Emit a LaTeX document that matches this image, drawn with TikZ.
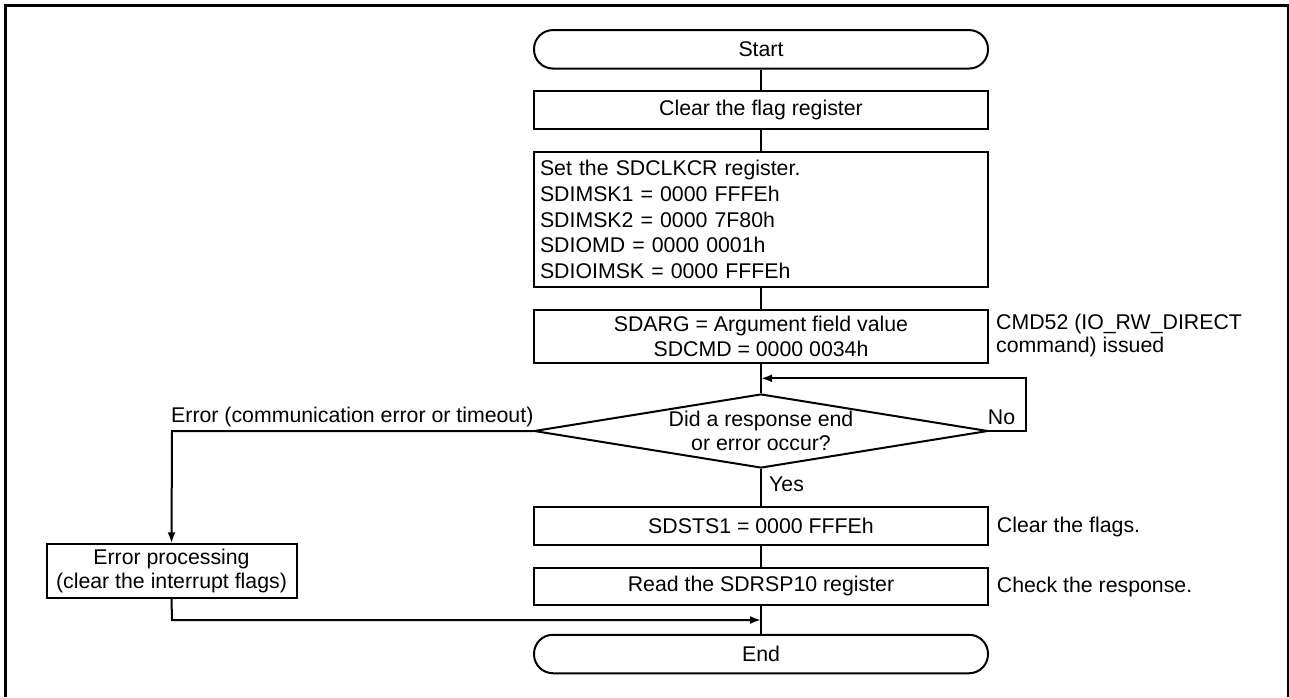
\documentclass[tikz,border=0pt]{standalone}
\usepackage{fontspec}
\setmainfont{Liberation Sans}
\usetikzlibrary{shapes.geometric,arrows.meta}
\begin{document}
\begin{tikzpicture}[x=1pt,y=-1pt,
  every node/.style={font=\fontsize{21.3}{25}\selectfont},
  ln/.style={line width=2pt},
  box/.style={draw,line width=2pt,rectangle,minimum width=454pt,inner sep=0pt,align=center},
  term/.style={box,rounded corners=19pt,minimum height=38.5pt},
  arr/.style={ln,-{Latex[length=11pt,width=8pt]}},
  lbl/.style={inner sep=0pt}]
\useasboundingbox (0,0) rectangle (1289,697);
% frame
\draw[line width=3pt] (5.5,697) -- (5.5,5.5) -- (1289,5.5);
\draw[line width=2pt] (1288,5.5) -- (1288,697);
% nodes
\node[term] (start) at (761,49.3) {Start};
\node[box,minimum height=38pt] (clear) at (761,110) {Clear the flag register};
\node[box,minimum height=135.6pt,text width=442pt,align=left,font=\fontsize{21.3}{25.7}\selectfont] (set) at (761,219.5)
  {Set the SDCLKCR register.\\SDIMSK1 = 0000 FFFEh\\SDIMSK2 = 0000 7F80h\\SDIOMD = 0000 0001h\\SDIOIMSK = 0000 FFFEh};
\node[box,minimum height=53pt] (sdarg) at (761,336.5) {SDARG = Argument field value\\SDCMD = 0000 0034h};
\node[lbl,anchor=west,align=left,font=\fontsize{21.3}{23.3}\selectfont] (cmd) at (996,335.7) {CMD52 (IO\_RW\_DIRECT\\command) issued};
\node[draw,ln,diamond,minimum width=454pt,minimum height=74pt,inner sep=0pt,aspect=6.1,align=center,font=\fontsize{21.3}{24.3}\selectfont] (dec) at (761,431)
  {Did a response end\\or error occur?};
\coordinate (loopin) at (761,378.3);
\coordinate (r1) at (1025.7,431);
\coordinate (r2) at (1025.7,378.3);
\node[lbl] (no) at (1001.5,417) {No};
\node[lbl,anchor=west] (yes) at (769,484) {Yes};
\node[box,minimum height=38.3pt] (sdsts) at (761,525.9) {SDSTS1 = 0000 FFFEh};
\node[lbl,anchor=west] (cf) at (996.7,527.3) {Clear the flags.};
\node[box,minimum height=37pt] (read) at (761,586) {Read the SDRSP10 register};
\node[lbl,anchor=west] (cr) at (996.7,586.7) {Check the response.};
\node[term] (end) at (761,654) {End};
\node[box,minimum width=250pt,minimum height=53.4pt,font=\fontsize{21.3}{24.7}\selectfont] (err) at (171.5,571) {Error processing\\(clear the interrupt flags)};
\node[lbl,anchor=east] (errl) at (533.6,416.7) {Error (communication error or timeout)};
\coordinate (l1) at (172,431);
\coordinate (b1) at (172,620);
\coordinate (b2) at (761,620);
% connectors
\draw[ln] (start.south) -- (clear.north);
\draw[ln] (clear.south) -- (set.north);
\draw[ln] (set.south) -- (sdarg.north);
\draw[ln] (sdarg.south) -- (dec.north);
\draw[arr] (dec.east) -- (r1) -- (r2) -- (loopin);
\draw[ln] (dec.south) -- (sdsts.north);
\draw[ln] (sdsts.south) -- (read.north);
\draw[ln] (read.south) -- (end.north);
\draw[arr] (dec.west) -- (l1) -- (err.north);
\draw[arr] (err.south) -- (b1) -- (b2);
\end{tikzpicture}
\end{document}
